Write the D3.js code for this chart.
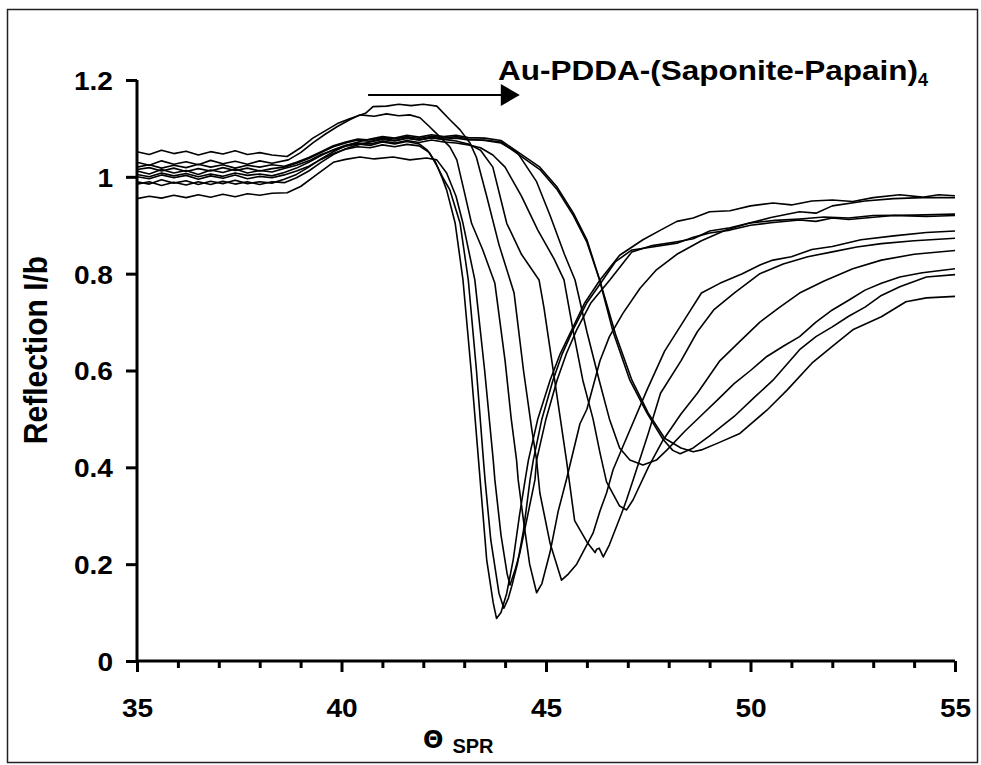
<!DOCTYPE html>
<html><head><meta charset="utf-8">
<script src="https://cdn.jsdelivr.net/npm/d3@7"></script>
<style>
html,body{margin:0;padding:0;background:#fff;}
svg text{font-family:"Liberation Sans",Arial,sans-serif;font-weight:bold;fill:#000;}
</style></head>
<body><svg id="chart" width="981" height="765"></svg>
<script>
// ---- data (angle in degrees, reflection I/b) ----
const xTicksMajor = [35, 40, 45, 50, 55];
const xTicksMinor = [36, 37, 38, 39, 41, 42, 43, 44, 46, 47, 48, 49, 51, 52, 53, 54];
const yTicks = [0, 0.2, 0.4, 0.6, 0.8, 1, 1.2];
const yTickLabels = ["0", "0.2", "0.4", "0.6", "0.8", "1", "1.2"];
const titleMain = "Au-PDDA-(Saponite-Papain)";
const titleSub = "4";
const yTitle = "Reflection I/b";
const arrowFrom = 40.65, arrowTo = 44.36;

const curveA = [[35,1.012],[35.3,1.006],[35.6,1.015],[35.9,1.008],[36.2,1.013],[36.5,1.005],[36.8,1.014],[37.1,1.009],[37.4,1.016],[37.7,1.008],[38.0,1.013],[38.3,1.010],[38.6,1.017],[38.9,1.024],[39.2,1.033],[39.5,1.046],[39.8,1.055],[40.1,1.063],[40.4,1.068],[40.7,1.065],[41.0,1.072],[41.3,1.068],[41.6,1.073],[41.9,1.068],[42.1,1.055],[42.3,1.03],[42.45,1.0],[42.57,0.973],[42.78,0.904],[42.97,0.787],[43.17,0.6],[43.35,0.415],[43.55,0.209],[43.71,0.12],[43.79,0.088],[43.9,0.1],[44.04,0.14],[44.2,0.21],[44.35,0.3],[44.49,0.374],[44.57,0.415],[44.8,0.5],[45.1,0.58],[45.35,0.635],[45.63,0.684],[45.95,0.74],[46.32,0.787],[46.8,0.838],[47.37,0.87],[47.8,0.89],[48.2,0.908],[48.6,0.915],[49.0,0.928],[49.5,0.93],[50.0,0.94],[50.55,0.946],[51.0,0.942],[51.5,0.95],[52.0,0.952],[52.5,0.949],[53.0,0.957],[53.65,0.963],[54.2,0.958],[54.6,0.963],[55,0.961]];
const curveB = [[35,1.0],[35.3,0.996],[35.6,1.004],[35.9,0.998],[36.2,1.003],[36.5,0.995],[36.8,1.002],[37.1,0.997],[37.4,1.004],[37.7,0.996],[38.0,1.001],[38.3,0.998],[38.6,1.004],[38.9,1.012],[39.2,1.022],[39.5,1.036],[39.8,1.048],[40.1,1.057],[40.4,1.062],[40.7,1.06],[41.0,1.066],[41.3,1.062],[41.6,1.067],[41.9,1.064],[42.15,1.05],[42.35,1.02],[42.5,0.995],[42.65,0.973],[42.9,0.904],[43.1,0.787],[43.3,0.6],[43.47,0.415],[43.51,0.374],[43.65,0.25],[43.85,0.14],[43.97,0.109],[44.08,0.13],[44.16,0.154],[44.3,0.2],[44.45,0.27],[44.61,0.374],[44.69,0.415],[44.9,0.5],[45.17,0.58],[45.4,0.635],[45.66,0.684],[46.0,0.74],[46.39,0.787],[46.7,0.825],[47.1,0.849],[47.6,0.855],[48.2,0.863],[48.6,0.875],[49.0,0.884],[49.5,0.89],[50.0,0.9],[50.5,0.905],[51.2,0.911],[51.6,0.908],[52.0,0.915],[52.4,0.912],[52.8,0.915],[53.5,0.92],[54.3,0.918],[55,0.92]];
const curveC = [[35,0.955],[35.3,0.96],[35.6,0.956],[35.9,0.962],[36.2,0.957],[36.5,0.963],[36.8,0.958],[37.1,0.964],[37.4,0.959],[37.7,0.965],[38.0,0.962],[38.3,0.966],[38.67,0.967],[39.0,0.98],[39.4,1.005],[39.8,1.03],[40.1,1.036],[40.45,1.041],[40.8,1.037],[41.26,1.041],[41.67,1.035],[42.08,1.039],[42.33,1.035],[42.57,1.008],[42.8,0.96],[42.97,0.904],[43.26,0.787],[43.5,0.6],[43.71,0.415],[43.75,0.374],[43.9,0.26],[44.05,0.18],[44.12,0.157],[44.25,0.19],[44.36,0.223],[44.55,0.3],[44.73,0.374],[44.77,0.415],[45.0,0.5],[45.27,0.58],[45.5,0.635],[45.75,0.684],[46.1,0.74],[46.56,0.787],[47.1,0.845],[47.6,0.858],[48.2,0.866],[48.6,0.872],[49.0,0.888],[49.5,0.895],[50.0,0.905],[50.6,0.91],[51.2,0.913],[51.8,0.917],[52.4,0.915],[53.0,0.92],[54.0,0.921],[55,0.923]];
const curveD = [[35,1.03],[35.3,1.024],[35.6,1.033],[35.9,1.026],[36.2,1.031],[36.5,1.025],[36.8,1.034],[37.1,1.027],[37.4,1.032],[37.7,1.026],[38.0,1.033],[38.3,1.028],[38.7,1.035],[39.0,1.05],[39.3,1.07],[39.6,1.088],[39.9,1.104],[40.2,1.118],[40.45,1.128],[40.8,1.125],[41.1,1.13],[41.4,1.126],[41.67,1.128],[41.92,1.122],[42.16,1.103],[42.4,1.083],[42.65,1.062],[42.82,1.035],[43.0,0.97],[43.18,0.904],[43.45,0.85],[43.75,0.78],[44.0,0.62],[44.15,0.5],[44.28,0.415],[44.32,0.374],[44.45,0.29],[44.6,0.2],[44.77,0.141],[44.9,0.16],[45.1,0.225],[45.3,0.31],[45.5,0.375],[45.83,0.49],[46.0,0.52],[46.32,0.62],[46.55,0.67],[46.88,0.718],[47.3,0.77],[47.7,0.808],[48.2,0.84],[48.8,0.868],[49.4,0.89],[50.0,0.905],[50.5,0.916],[51.2,0.928],[51.6,0.925],[52.0,0.94],[52.8,0.95],[53.5,0.955],[54.2,0.957],[55,0.957]];
const curveE = [[35,1.052],[35.3,1.046],[35.6,1.055],[35.9,1.048],[36.2,1.053],[36.5,1.045],[36.8,1.052],[37.1,1.047],[37.4,1.054],[37.7,1.046],[38.0,1.05],[38.3,1.045],[38.67,1.042],[39.0,1.06],[39.3,1.08],[39.6,1.095],[39.9,1.11],[40.2,1.12],[40.6,1.132],[40.77,1.145],[41.1,1.146],[41.4,1.15],[41.7,1.147],[42.0,1.15],[42.33,1.146],[42.65,1.118],[42.9,1.097],[43.14,1.07],[43.3,1.04],[43.55,0.96],[43.85,0.86],[44.22,0.76],[44.45,0.6],[44.65,0.48],[44.77,0.415],[44.85,0.347],[45.1,0.243],[45.38,0.167],[45.55,0.18],[45.75,0.2],[46.15,0.264],[46.32,0.31],[46.48,0.347],[46.64,0.395],[46.88,0.443],[47.47,0.56],[47.9,0.64],[48.5,0.72],[48.8,0.76],[49.25,0.78],[49.8,0.8],[50.23,0.818],[50.55,0.828],[51.0,0.835],[51.5,0.85],[52.0,0.856],[52.7,0.87],[53.5,0.878],[54.3,0.885],[55,0.888]];
const curveF = [[35,1.015],[35.3,1.019],[35.6,1.012],[35.9,1.018],[36.2,1.011],[36.5,1.017],[36.8,1.012],[37.1,1.019],[37.4,1.013],[37.7,1.018],[38.0,1.012],[38.3,1.017],[38.6,1.02],[38.9,1.028],[39.2,1.038],[39.5,1.05],[39.8,1.062],[40.1,1.07],[40.4,1.076],[40.7,1.073],[41.0,1.079],[41.3,1.075],[41.6,1.08],[41.9,1.076],[42.2,1.081],[42.5,1.077],[42.8,1.074],[43.1,1.068],[43.4,1.055],[43.7,1.02],[44.04,0.904],[44.4,0.84],[44.83,0.787],[44.95,0.73],[45.2,0.587],[45.5,0.415],[45.7,0.29],[46.0,0.246],[46.2,0.224],[46.24,0.231],[46.3,0.233],[46.4,0.215],[46.55,0.24],[46.85,0.305],[46.97,0.333],[47.13,0.374],[47.5,0.47],[47.8,0.553],[48.3,0.62],[48.7,0.68],[49.1,0.725],[49.6,0.76],[50.23,0.8],[50.8,0.82],[51.4,0.835],[52.0,0.845],[52.6,0.855],[53.2,0.862],[54.0,0.868],[55,0.873]];
const curveG = [[35,1.005],[35.3,1.0],[35.6,1.008],[35.9,1.002],[36.2,1.007],[36.5,1.0],[36.8,1.006],[37.1,1.001],[37.4,1.008],[37.7,1.003],[38.0,1.006],[38.3,1.002],[38.6,1.009],[38.9,1.018],[39.2,1.03],[39.5,1.044],[39.8,1.056],[40.1,1.065],[40.4,1.07],[40.7,1.068],[41.0,1.074],[41.3,1.07],[41.6,1.075],[41.9,1.071],[42.2,1.076],[42.5,1.072],[42.8,1.07],[43.1,1.066],[43.4,1.06],[43.7,1.045],[44.0,1.02],[44.4,0.96],[44.8,0.89],[45.2,0.83],[45.44,0.787],[45.66,0.684],[45.9,0.58],[46.15,0.5],[46.32,0.43],[46.48,0.37],[46.8,0.32],[46.97,0.312],[47.13,0.333],[47.5,0.4],[47.86,0.456],[48.3,0.51],[48.7,0.553],[49.25,0.62],[49.74,0.66],[50.23,0.7],[50.7,0.73],[51.2,0.76],[51.8,0.785],[52.5,0.81],[53.2,0.828],[54.0,0.84],[55,0.848]];
const curveH = [[35,1.02],[35.3,1.025],[35.6,1.018],[35.9,1.024],[36.2,1.019],[36.5,1.026],[36.8,1.02],[37.1,1.025],[37.4,1.018],[37.7,1.024],[38.0,1.02],[38.3,1.025],[38.6,1.022],[38.9,1.03],[39.2,1.04],[39.5,1.052],[39.8,1.064],[40.1,1.072],[40.4,1.078],[40.7,1.076],[41.0,1.081],[41.3,1.078],[41.6,1.083],[41.9,1.079],[42.2,1.084],[42.5,1.08],[42.8,1.083],[43.1,1.078],[43.5,1.075],[43.9,1.07],[44.3,1.05],[44.77,0.99],[45.1,0.92],[45.45,0.84],[45.71,0.787],[46.0,0.68],[46.3,0.58],[46.55,0.5],[46.8,0.44],[47.05,0.415],[47.37,0.405],[47.7,0.415],[47.96,0.436],[48.4,0.475],[48.77,0.505],[49.2,0.54],[49.6,0.573],[50.0,0.6],[50.4,0.629],[50.8,0.65],[51.2,0.67],[51.6,0.7],[52.0,0.725],[52.4,0.745],[52.8,0.766],[53.2,0.78],[53.65,0.793],[54.2,0.802],[55,0.81]];
const curveI = [[35,0.99],[35.3,0.985],[35.6,0.994],[35.9,0.987],[36.2,0.992],[36.5,0.984],[36.8,0.991],[37.1,0.986],[37.4,0.993],[37.7,0.986],[38.0,0.99],[38.3,0.987],[38.6,0.995],[38.9,1.005],[39.2,1.02],[39.5,1.037],[39.8,1.052],[40.1,1.064],[40.4,1.072],[40.7,1.078],[41.0,1.083],[41.3,1.08],[41.6,1.086],[41.9,1.082],[42.2,1.087],[42.5,1.083],[42.8,1.086],[43.1,1.081],[43.5,1.08],[43.9,1.075],[44.3,1.052],[44.85,1.02],[45.26,0.98],[45.67,0.925],[46.0,0.87],[46.3,0.79],[46.64,0.68],[47.05,0.58],[47.47,0.512],[47.86,0.458],[48.1,0.435],[48.28,0.428],[48.6,0.44],[49.0,0.465],[49.6,0.505],[50.1,0.545],[50.55,0.58],[51.2,0.643],[51.6,0.67],[52.0,0.69],[52.4,0.712],[52.8,0.731],[53.2,0.755],[53.65,0.773],[54.3,0.793],[55,0.798]];
const curveJ = [[35,0.985],[35.3,0.99],[35.6,0.982],[35.9,0.989],[36.2,0.983],[36.5,0.99],[36.8,0.984],[37.1,0.991],[37.4,0.985],[37.7,0.99],[38.0,0.984],[38.3,0.99],[38.6,0.988],[38.9,0.998],[39.2,1.012],[39.5,1.03],[39.8,1.046],[40.1,1.058],[40.4,1.066],[40.7,1.072],[41.0,1.077],[41.3,1.074],[41.6,1.08],[41.9,1.076],[42.2,1.081],[42.5,1.077],[42.8,1.08],[43.1,1.076],[43.5,1.076],[43.9,1.072],[44.3,1.048],[44.85,1.015],[45.26,0.975],[45.67,0.92],[46.0,0.865],[46.32,0.785],[46.7,0.675],[47.1,0.58],[47.5,0.512],[47.9,0.46],[48.3,0.44],[48.6,0.432],[48.8,0.436],[49.2,0.45],[49.74,0.47],[50.4,0.518],[50.9,0.56],[51.5,0.615],[52.0,0.65],[52.5,0.684],[53.2,0.711],[53.8,0.742],[54.3,0.75],[55,0.753]];
const curves = [curveA, curveB, curveC, curveD, curveE, curveF, curveG, curveH, curveI, curveJ];

// ---- drawing ----
const svg = d3.select("#chart");
const W = 981, H = 765;
svg.append("rect").attr("x", 0).attr("y", 0).attr("width", W).attr("height", H).attr("fill", "#fff");
svg.append("rect").attr("x", 7.5).attr("y", 9.5).attr("width", 970).attr("height", 753)
  .attr("fill", "none").attr("stroke", "#222").attr("stroke-width", 1.5);

const x = d3.scaleLinear().domain([35, 55]).range([137, 955]);
const y = d3.scaleLinear().domain([0, 1.2]).range([661, 80]);

function stretch(sel, f) {
  sel.each(function () {
    const w = this.getComputedTextLength();
    d3.select(this).attr("textLength", w * f).attr("lengthAdjust", "spacingAndGlyphs");
  });
}

// curves
const line = d3.line().x(d => x(d[0])).y(d => y(d[1])).curve(d3.curveLinear);
svg.append("g").selectAll("path").data(curves).join("path")
  .attr("d", line).attr("fill", "none").attr("stroke", "#000").attr("stroke-width", 1.6)
  .attr("stroke-linejoin", "round");

// y axis
const yAxis = d3.axisLeft(y).tickValues(yTicks).tickSize(11).tickPadding(13)
  .tickFormat((d, i) => yTickLabels[i]);
const gy = svg.append("g").attr("transform", "translate(137,0)").call(yAxis);
gy.select(".domain").attr("stroke", "#000").attr("stroke-width", 3).attr("d", "M0,80V661");
gy.selectAll(".tick line").attr("stroke", "#000").attr("stroke-width", 3);
gy.selectAll(".tick text").attr("font-size", 26).attr("font-family", null).attr("dy", "0.36em");
stretch(gy.selectAll(".tick text"), 1.08);

// x axis major
const xAxis = d3.axisBottom(x).tickValues(xTicksMajor).tickSize(11).tickPadding(27)
  .tickFormat(d3.format("d"));
const gx = svg.append("g").attr("transform", "translate(0,661)").call(xAxis);
gx.select(".domain").attr("stroke", "#000").attr("stroke-width", 3).attr("d", "M137,0H955");
gx.selectAll(".tick line").attr("stroke", "#000").attr("stroke-width", 3);
gx.selectAll(".tick text").attr("font-size", 26).attr("font-family", null);
stretch(gx.selectAll(".tick text"), 1.08);
// x minor ticks
const xMinor = d3.axisBottom(x).tickValues(xTicksMinor).tickSize(7).tickFormat("");
const gxm = svg.append("g").attr("transform", "translate(0,661)").call(xMinor);
gxm.select(".domain").remove();
gxm.selectAll(".tick line").attr("stroke", "#000").attr("stroke-width", 3);

// y title
svg.append("text").attr("transform", "translate(47,350) scale(1.12,1) rotate(-90)")
  .attr("text-anchor", "middle").attr("font-size", 30).text(yTitle);

// x title
const xt = svg.append("text").attr("x", 423).attr("y", 748);
xt.append("tspan").attr("font-size", 24).attr("font-family", "DejaVu Sans").text("\u0398");
xt.append("tspan").attr("font-size", 20).attr("dx", 9).attr("dy", 5).text("SPR");

// title with subscript
const tt = svg.append("text").attr("x", 498).attr("y", 80).attr("font-size", 27);
tt.append("tspan").attr("class", "main").text(titleMain);
tt.append("tspan").attr("font-size", 18).attr("dy", 6).text(titleSub);
tt.select("tspan.main").attr("textLength", 420).attr("lengthAdjust", "spacingAndGlyphs");

// arrow
svg.append("line").attr("x1", x(arrowFrom)).attr("x2", x(arrowTo) - 15).attr("y1", 95).attr("y2", 95)
  .attr("stroke", "#000").attr("stroke-width", 1.8);
svg.append("path").attr("d", `M${x(arrowTo) - 19},84L${x(arrowTo)},95L${x(arrowTo) - 19},106Z`).attr("fill", "#000");
</script></body></html>
